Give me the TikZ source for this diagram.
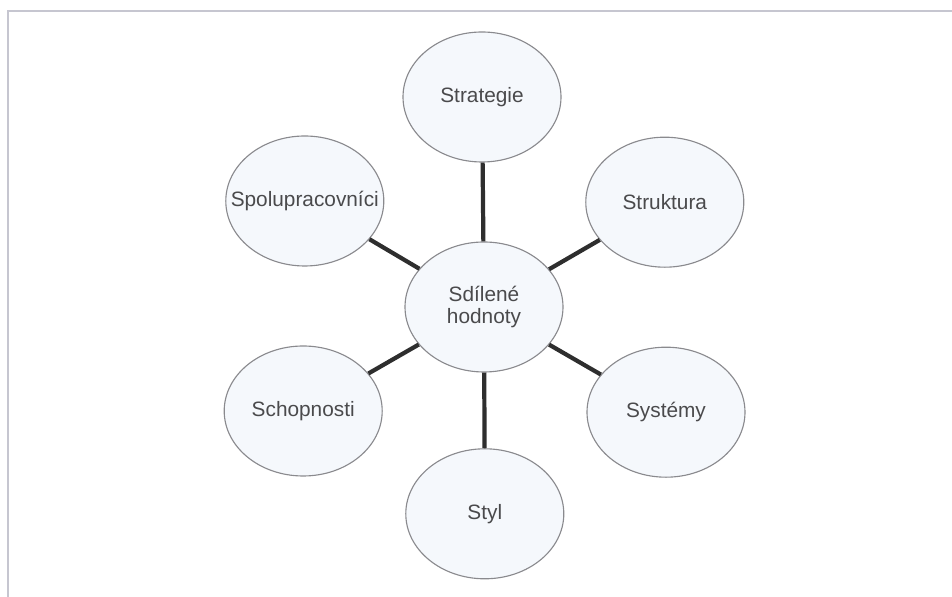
\documentclass[tikz,border=0pt]{standalone}
\usepackage{fontspec}
\setmainfont{Liberation Sans}
\usetikzlibrary{shapes.geometric}
\definecolor{spokecol}{HTML}{2E2E2E}
\definecolor{rimcol}{HTML}{8A8A8E}
\definecolor{fillcol}{HTML}{F5F8FC}
\definecolor{textcol}{HTML}{4A4A4C}
\definecolor{framecol}{HTML}{C6C6D0}

\begin{document}
\begin{tikzpicture}[
    bubble/.style={ellipse, draw=rimcol, fill=fillcol, line width=0.8pt,
      minimum width=3.95cm, minimum height=3.25cm, inner sep=0pt,
      text=textcol, font=\fontsize{14.8}{15}\selectfont, align=center},
    spoke/.style={draw=spokecol, line width=3pt}]
      \useasboundingbox (0,0) rectangle (23.8,14.925);
      \draw[framecol, line width=1.5pt] (0.19,0) -- (0.19,14.66) -- (23.8,14.66);

      \path
      (12.1,7.25) node[bubble](hodnoty) {Sdílené\\hodnoty}
      (12.05,12.5) node[bubble](strategie) {Strategie}
      (16.62,9.87) node[bubble](struktura) {Struktura}
      (16.65,4.62) node[bubble](systemy) {Systémy}
      (12.12,2.08) node[bubble](styl) {Styl}
      (7.58,4.65) node[bubble](schopnosti) {Schopnosti}
      (7.62,9.9) node[bubble, inner xsep=-0.6cm](spolupracovnici) {Spolupracovníci}
      ;

      \draw[spoke] (hodnoty) -- (strategie);
      \draw[spoke] (hodnoty) -- (struktura);
      \draw[spoke] (hodnoty) -- (systemy);
      \draw[spoke] (hodnoty) -- (styl);
      \draw[spoke] (hodnoty) -- (schopnosti);
      \draw[spoke] (hodnoty) -- (spolupracovnici);
    \end{tikzpicture}
\end{document}
